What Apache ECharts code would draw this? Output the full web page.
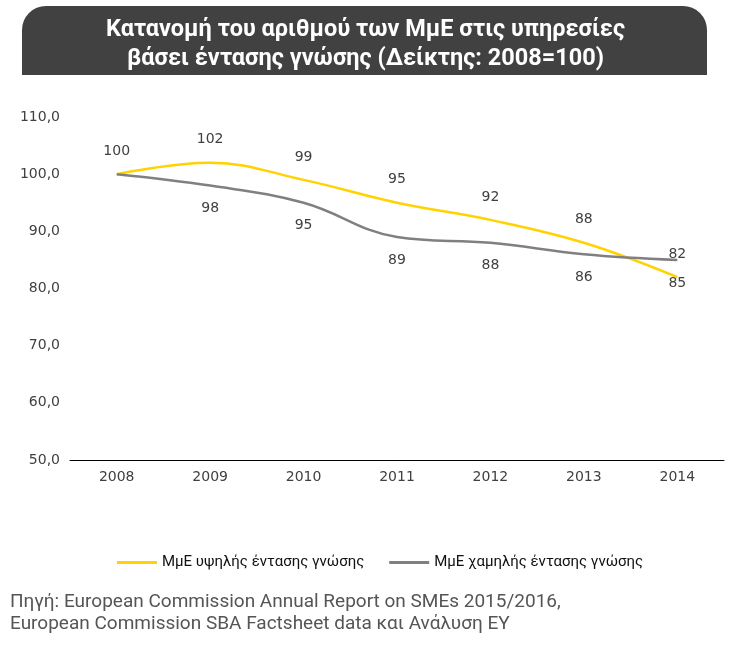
<!DOCTYPE html>
<html>
<head>
<meta charset="utf-8">
<script src="https://cdn.jsdelivr.net/npm/echarts@6/dist/echarts.min.js"></script>
<style>
  html, body { margin: 0; padding: 0; background: #fff; }
  #chart { width: 731px; height: 652px; }
</style>
</head>
<body>
<div id="chart"></div>
<script>
  // data
  const years = ['2008', '2009', '2010', '2011', '2012', '2013', '2014'];
  const highKnowledge = [100, 102, 99, 95, 92, 88, 82];
  const lowKnowledge = [100, 98, 95, 89, 88, 86, 85];
  const seriesNames = ['ΜμΕ υψηλής έντασης γνώσης', 'ΜμΕ χαμηλής έντασης γνώσης'];
  const titleLines = ['Κατανομή του αριθμού των ΜμΕ στις υπηρεσίες', 'βάσει έντασης γνώσης (Δείκτης: 2008=100)'];
  const sourceLines = ['Πηγή: European Commission Annual Report on SMEs 2015/2016,', 'European Commission SBA Factsheet data και Ανάλυση ΕΥ'];

  const chart = echarts.init(document.getElementById('chart'));

  const labelFont = { fontFamily: 'DejaVu Sans', fontSize: 14, color: '#404040' };

  // the shared 2008 starting point carries only one label (above)
  const lowData = lowKnowledge.map((v, i) => i === 0 ? { value: v, label: { show: false } } : v);

  chart.setOption({
    animation: false,
    backgroundColor: '#fff',
    title: {
      text: titleLines.join('\n'),
      left: 'center',
      top: 11,
      textStyle: {
        fontFamily: 'Roboto',
        fontWeight: 'bold',
        fontSize: 23.5,
        lineHeight: 29,
        color: '#fff'
      }
    },
    graphic: [
      {
        type: 'rect',
        z: -1,
        shape: { x: 22, y: 6, width: 685, height: 69, r: [24, 24, 0, 0] },
        style: { fill: '#414141' }
      },
      {
        type: 'text',
        left: 10,
        top: 591,
        style: {
          text: sourceLines.join('\n'),
          fontFamily: 'Roboto',
          fontSize: 19,
          lineHeight: 22,
          fill: '#555'
        }
      }
    ],
    legend: {
      left: 112,
      top: 550,
      itemWidth: 40,
      itemHeight: 3,
      itemGap: 25,
      icon: 'rect',
      textStyle: { fontFamily: 'Roboto', fontSize: 15, color: '#111' },
      data: seriesNames
    },
    grid: { left: 70, right: 7, top: 117, bottom: 192 },
    xAxis: {
      type: 'category',
      data: years,
      boundaryGap: true,
      axisLine: { lineStyle: { color: '#000', width: 1 } },
      axisTick: { show: false },
      axisLabel: Object.assign({ margin: 10 }, labelFont)
    },
    yAxis: {
      type: 'value',
      min: 50,
      max: 110,
      interval: 10,
      axisLine: { show: false },
      axisTick: { show: false },
      splitLine: { show: false },
      axisLabel: Object.assign({
        margin: 10,
        formatter: v => v.toFixed(1).replace('.', ',')
      }, labelFont)
    },
    series: [
      {
        name: seriesNames[0],
        type: 'line',
        data: highKnowledge,
        smooth: 0.4,
        showSymbol: true,
        symbol: 'circle',
        symbolSize: 0,
        color: '#FFD200',
        lineStyle: { width: 2.5, color: '#FFD200' },
        label: Object.assign({ show: true, position: 'top', distance: 16 }, labelFont)
      },
      {
        name: seriesNames[1],
        type: 'line',
        data: lowData,
        smooth: 0.4,
        showSymbol: true,
        symbol: 'circle',
        symbolSize: 0,
        color: '#808080',
        lineStyle: { width: 2.5, color: '#808080' },
        label: Object.assign({ show: true, position: 'bottom', distance: 16 }, labelFont)
      }
    ]
  });
</script>
</body>
</html>
